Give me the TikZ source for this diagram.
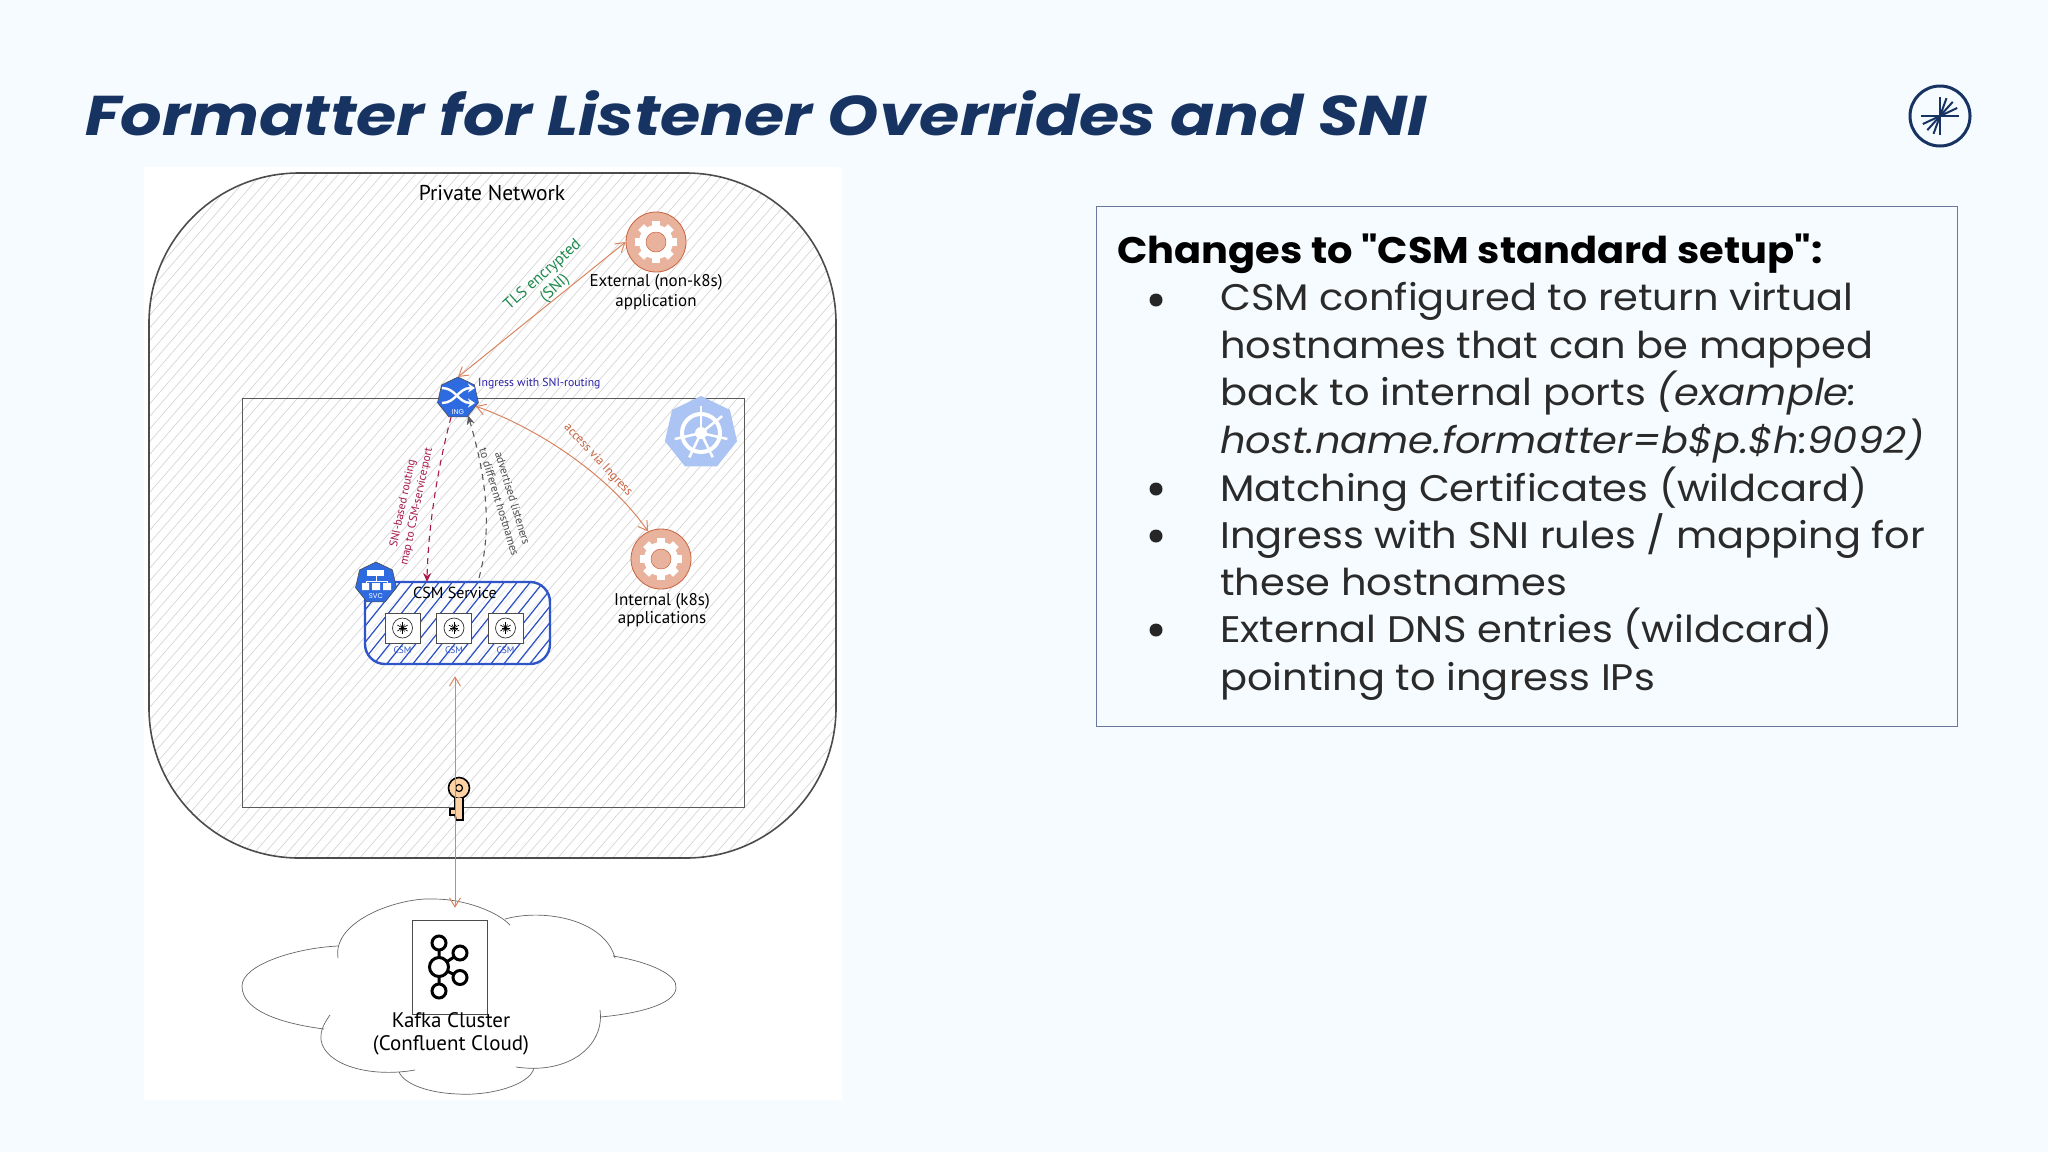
\documentclass[tikz,border=0pt]{standalone}
\usepackage{fontspec}
\setmainfont{Poppins}
\newfontfamily\sketchfont{PT Sans}
\newfontfamily\titlefont{Poppins}[FakeStretch=1.164]
\newfontfamily\slidefont{Poppins}[FakeStretch=1.08]
\usetikzlibrary{shapes.geometric, arrows.meta, calc}
\definecolor{slidebg}{HTML}{F5FBFF}
\definecolor{navy}{HTML}{173361}
\definecolor{bodytext}{HTML}{2A2A2A}
\definecolor{boxline}{HTML}{6A77A0}
\definecolor{k8sblue}{HTML}{2F6BE0}
\definecolor{csmblue}{HTML}{2F55C8}
\definecolor{appred}{HTML}{C9623F}
\definecolor{appfill}{HTML}{E9B29C}
\definecolor{linkorange}{HTML}{DB8560}
\definecolor{crimson}{HTML}{A8174E}
\definecolor{tlsgreen}{HTML}{1E8A4E}
\definecolor{ingviolet}{HTML}{2B1FA8}
\tikzstyle{sketch} = [font=\sketchfont, text=black, align=center, inner sep=0pt]
\tikzstyle{frame} = [rectangle, draw=black!65, line width=1pt, minimum width=502pt, minimum height=409pt]
\tikzstyle{heptagon} = [regular polygon, regular polygon sides=7, inner sep=0pt, outer sep=0pt, fill=k8sblue, draw=black!70, line width=0.6pt]
\tikzstyle{appring} = [circle, minimum size=60pt, inner sep=0pt, fill=appfill, draw=appred, line width=0.8pt]
\tikzstyle{pod} = [rectangle, minimum width=35pt, minimum height=30pt, inner sep=0pt, fill=white, draw=black!70, line width=0.8pt]
\tikzstyle{link} = [draw=linkorange, line width=1pt, {Straight Barb[length=9pt,width=11pt]}-{Straight Barb[length=9pt,width=11pt]}]
\tikzstyle{routing} = [draw=crimson, line width=1.1pt, dash pattern=on 6pt off 5pt, -{Stealth[length=9pt,width=8pt]}]
\tikzstyle{advert} = [draw=black!65, line width=1.1pt, dash pattern=on 6pt off 5pt, -{Stealth[length=9pt,width=8pt]}]
\tikzstyle{bulletline} = [anchor=north west, align=left, inner sep=0pt, text=bodytext, font=\slidefont\fontsize{37}{47.4}\selectfont]
\tikzstyle{dot} = [circle, fill=black!85, minimum size=13pt, inner sep=0pt]
\newcommand{\gearinside}[1]{
  \begin{scope}[shift={(#1)}]
    \foreach \a in {0,45,...,315} \fill [white, rotate=\a] (-4,-21) rectangle (4,21);
    \fill [white] (0,0) circle (17);
    \fill [appfill, draw=appred, line width=0.5pt] (0,0) circle (10);
  \end{scope}
}
\begin{document}
\begin{tikzpicture}[x=1pt, y=-1pt]
\useasboundingbox (0,0) rectangle (2048,1152);
\fill [slidebg] (0,0) rectangle (2048,1152);
\fill [white] (144,167) rectangle (842,1100);

% slide header
\node (title) [anchor=west, inner sep=0pt, text=navy, font=\titlefont\fontsize{56}{60}\selectfont\bfseries\itshape] at (85,113) {Formatter for Listener Overrides and SNI};
\node (logo) [circle, draw=navy, line width=3pt, minimum size=60pt, inner sep=0pt] at (1940,116) {};
\draw [navy, line width=2.2pt] (1921,116) -- (1959,116);
\draw [navy, line width=2.2pt] (1940,97) -- (1940,135);
\foreach \a in {110,132,155,290,312,335} \draw [navy, line width=2pt] (logo.center) -- ++(\a:-19);

% private network
\begin{scope}
\clip [rounded corners=150pt] (149,173) rectangle (836,858);
\foreach \h in {-500,-489,...,900} \draw [black!18, line width=0.6pt] (\h,860) -- (\h+600,170);
\end{scope}
\draw [black!70, line width=1.6pt, rounded corners=150pt] (149,173) rectangle (836,858);
\node (privnet) [sketch, font=\sketchfont\fontsize{21.5}{24}\selectfont] at (492,193) {Private Network};
\node (cluster) [frame] at (493,602.5) {};

% k8s emblem
\node (k8s) [heptagon, minimum size=74pt, fill=k8sblue!40, draw=none] at (701,433) {};
\draw [white, line width=4pt] (k8s.center) circle (19);
\fill [white] (k8s.center) circle (6);
\foreach \a in {0,51.4,...,308} \draw [white, line width=2.5pt] (k8s.center) -- ++(\a+90:-27);

% applications
\node (extapp) [appring] at (656,242) {};
\gearinside{extapp}
\node (extlabel) [sketch, font=\sketchfont\fontsize{17}{20}\selectfont] at (656,292) {External (non-k8s)\\application};
\node (intapp) [appring] at (661,559) {};
\gearinside{intapp}
\node (intlabel) [sketch, font=\sketchfont\fontsize{17}{18}\selectfont] at (662,610) {Internal (k8s)\\applications};

% CSM service
\node (csm) [rectangle, rounded corners=20pt, minimum width=185pt, minimum height=82pt, inner sep=0pt, fill=white, fill opacity=0.5] at (457.5,623) {};
\begin{scope}
\clip [rounded corners=20pt] (365,582) rectangle (550,664);
\foreach \h in {200,213,...,600} \draw [csmblue, line width=1.2pt] (\h,670) -- (\h+80,570);
\end{scope}
\draw [csmblue, line width=2.4pt, rounded corners=20pt] (365,582) rectangle (550,664);
\node (csmtitle) [sketch, font=\sketchfont\fontsize{16}{18}\selectfont] at (455,593) {CSM Service};
\foreach \i/\x in {1/402.5, 2/454, 3/505.5} {
  \node (pod\i) [pod] at (\x,628) {};
  \draw [black!80, line width=0.7pt] (pod\i.center) circle (10);
  \foreach \a in {0,30,...,330} \draw [black, line width=0.6pt] (pod\i.center) -- ++(\a:{4+2*mod(\a/30,2)});
  \node (csm\i) [sketch, text=csmblue, font=\sketchfont\fontsize{9.5}{10}\selectfont] at (\x,650) {CSM};
}
\node (svc) [heptagon, minimum size=42pt] at (376,583) {};
\begin{scope}[shift={(svc)}]
\fill [white] (-9,-13) rectangle (8,-7);
\draw [white, line width=0.8pt] (0,-7) -- (0,-2) (-10,0) -- (-10,-2) -- (11,-2) -- (11,0);
\fill [white] (-14,0) rectangle (-7,7) (-4,0) rectangle (4,7) (7,0) rectangle (15,7);
\end{scope}
\node (svctext) [sketch, text=white, font=\fontsize{7}{8}\selectfont] at (376,596) {SVC};

% ingress
\node (ing) [heptagon, minimum size=42pt] at (458,398) {};
\draw [white, line width=2.4pt, -{Stealth[length=7pt,width=9pt]}] (442,388) .. controls (456,388) and (458,403) .. (475,403);
\draw [white, line width=2.4pt, -{Stealth[length=7pt,width=9pt]}] (442,403) .. controls (456,403) and (458,388) .. (475,388);
\node (ingtext) [sketch, text=white, font=\fontsize{7}{8}\selectfont] at (458,412) {ING};
\node (inglabel) [sketch, anchor=west, text=ingviolet, font=\sketchfont\fontsize{11.7}{12}\selectfont] at (478,384) {Ingress with SNI-routing};

% key
\node (key) [circle, draw=black, fill=orange!35, line width=1.6pt, minimum size=21pt, inner sep=0pt] at (459,788) {};
\filldraw [draw=black, fill=orange!35, line width=1.6pt] (455,798) -- (455,809) -- (450,809) -- (450,815) -- (455,815) -- (456,820) -- (463,820) -- (463,798);
\draw [black, line width=1.2pt] (key.center) circle (3.5);

% kafka cloud
\node (cloud) [minimum width=434pt, minimum height=195pt, inner sep=0pt] at (455,996.5) {};
\draw [black!60, line width=0.7pt]
  (338,958) .. controls (332,920) and (400,897) .. (434,899) .. controls (465,899) and (498,912) .. (510,925)
  (505,919) .. controls (545,908) and (605,920) .. (615,958)
  (613,956) .. controls (650,962) and (678,975) .. (676,988) .. controls (675,1005) and (635,1014) .. (600,1017)
  (600,1010) .. controls (605,1045) and (570,1075) .. (516,1067)
  (534,1068) .. controls (530,1085) and (490,1096) .. (458,1094) .. controls (430,1093) and (405,1085) .. (399,1072)
  (415,1070) .. controls (370,1078) and (325,1065) .. (321,1040) .. controls (320,1030) and (325,1022) .. (330,1015)
  (324,1029) .. controls (285,1024) and (242,1012) .. (242,986) .. controls (242,965) and (295,948) .. (338,946);
\node (kafkabox) [rectangle, draw=black!70, line width=1pt, minimum width=75pt, minimum height=94pt, inner sep=0pt] at (450,967) {};
\draw [black, line width=3pt] (439,943) -- (439,991) (439,967) -- (460,953) (439,967) -- (460,977.5);
\foreach \x/\y/\r in {439/943/7, 439/991/7, 460/953/7, 460/977.5/7, 439/967/9.5}
  \filldraw [draw=black, fill=white, line width=3pt] (\x,\y) circle (\r);
\node (kafkalabel) [sketch, font=\sketchfont\fontsize{21}{23}\selectfont] at (451,1033.5) {Kafka Cluster\\(Confluent Cloud)};

% connectors
\draw [link] (ing.north) -- (extapp.west);
\draw [link] (ing.-25) .. controls (530,425) and (605,470) .. (intapp.115);
\draw [link, shorten <=12pt, shorten >=-9pt] (csm.south -| cloud.north) -- (cloud.north);
\coordinate (csmin) at (427,582);
\coordinate (csmout) at (479,578);
\draw [routing] (ing.250) .. controls (437,470) and (428,530) .. (csmin);
\draw [advert] (csmout) .. controls (492,530) and (487,480) .. (ing.300);

% connector labels
\node (tlslabel) [sketch, text=tlsgreen, rotate=42, font=\sketchfont\fontsize{16}{18}\selectfont] at (549,282) {TLS encrypted\\(SNI)};
\node (accesslabel) [sketch, text=appred, rotate=-47, font=\sketchfont\fontsize{12.5}{14}\selectfont] at (598,460) {access via Ingress};
\node (sniroute) [sketch, text=crimson, rotate=78, font=\sketchfont\fontsize{11.5}{14}\selectfont] at (410,505) {SNI-based routing\\map to CSM-service:port};
\node (advlabel) [sketch, text=black!70, rotate=-73, font=\sketchfont\fontsize{11.5}{14}\selectfont] at (506,500) {advertised listeners\\to different hostnames};

% changes box
\node (changes) [rectangle, draw=boxline, line width=1pt, minimum width=861pt, minimum height=520pt, inner sep=0pt] at (1526.5,466) {};
\node (changeshead) [anchor=west, inner sep=0pt, text=black, font=\slidefont\fontsize{37}{40}\selectfont\bfseries] at (1117,254) {Changes to "CSM standard setup":};
\node (item1) [bulletline] at (1220,282.5) {CSM configured to return virtual\\hostnames that can be mapped\\back to internal ports \textit{(example:}\\\textit{host.name.formatter=b\$p.\$h:9092)}};
\node (item2) [bulletline] at (1220,466.5) {Matching Certificates (wildcard)};
\node (item3) [bulletline] at (1220,513.5) {Ingress with SNI rules / mapping for\\these hostnames};
\node (item4) [bulletline] at (1220,608) {External DNS entries (wildcard)\\pointing to ingress IPs};
\foreach \y/\n in {300/1, 489/2, 536/3, 630/4} \node (dot\n) [dot] at (1156,\y) {};
\end{tikzpicture}
\end{document}
